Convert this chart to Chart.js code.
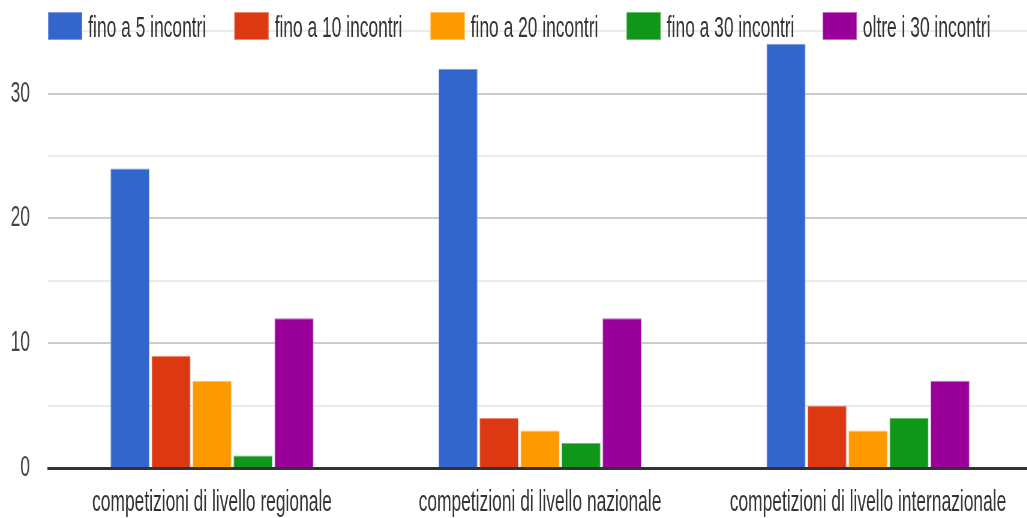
<!DOCTYPE html>
<html lang="it">
<head>
<meta charset="utf-8">
<title>Numero di incontri per livello di competizione</title>
<script src="https://cdn.jsdelivr.net/npm/chart.js@4/dist/chart.umd.min.js"></script>
<style>
  html, body { margin: 0; padding: 0; background: #fff; overflow: hidden; }
  #wrap {
    width: 1720px;
    height: 518px;
    transform: scaleX(0.6);
    transform-origin: 0 0;
  }
  canvas { display: block; }
</style>
</head>
<body>
<div id="wrap"><canvas id="chart" width="1720" height="518"></canvas></div>
<script>
// Categories (competition level)
const categories = [
  'competizioni di livello regionale',
  'competizioni di livello nazionale',
  'competizioni di livello internazionale'
];

// Series names
const seriesLabels = [
  'fino a 5 incontri',
  'fino a 10 incontri',
  'fino a 20 incontri',
  'fino a 30 incontri',
  'oltre i 30 incontri'
];

// Values per series, one per category
const fino5 = [24, 32, 34];
const fino10 = [9, 4, 5];
const fino20 = [7, 3, 3];
const fino30 = [1, 2, 4];
const oltre30 = [12, 12, 7];

// Labelled y ticks
const yTickLabels = [0, 10, 20, 30];

const seriesColors = ['#3366cc', '#dc3912', '#ff9900', '#109618', '#990099'];
const seriesEdges  = ['#7d9de0', '#ec8a72', '#ffc266', '#6cc070', '#c866c8'];

const FONT = '"Liberation Sans", Arial, sans-serif';
const seriesValues = [fino5, fino10, fino20, fino30, oltre30];

const datasets = seriesLabels.map((label, i) => ({
  label,
  data: seriesValues[i],
  backgroundColor: seriesColors[i],
  borderColor: seriesEdges[i],
  borderWidth: 1,
  categoryPercentage: 0.625,
  barPercentage: 0.951
}));

// Legend row drawn along the top, over the plot area
const topLegend = {
  id: 'topLegend',
  afterDraw(chart) {
    const ctx = chart.ctx;
    ctx.save();
    ctx.font = '29px ' + FONT;
    ctx.textBaseline = 'alphabetic';
    let x = chart.chartArea.left;
    chart.data.datasets.forEach(ds => {
      ctx.fillStyle = ds.backgroundColor;
      ctx.fillRect(x, 12, 57, 28);
      ctx.strokeStyle = ds.borderColor;
      ctx.lineWidth = 1;
      ctx.strokeRect(x + 0.5, 12.5, 56, 27);
      x += 57 + 10;
      ctx.fillStyle = '#333';
      ctx.fillText(ds.label, x, 37);
      x += ctx.measureText(ds.label).width + 47;
    });
    ctx.restore();
  }
};

new Chart(document.getElementById('chart'), {
  type: 'bar',
  data: { labels: categories, datasets },
  plugins: [topLegend],
  options: {
    responsive: false,
    animation: false,
    devicePixelRatio: 1,
    layout: { padding: 0 },
    plugins: {
      legend: { display: false },
      tooltip: { enabled: false }
    },
    scales: {
      x: {
        z: 1,
        grid: { display: false, drawTicks: false },
        border: { display: true, color: '#333', width: 3 },
        ticks: {
          padding: 18,
          color: '#333',
          font: { family: FONT, size: 29 },
          maxRotation: 0,
          autoSkip: false
        },
        afterFit(scale) {
          scale.height = 50;
          scale.paddingLeft = 0;
          scale.paddingRight = 0;
        }
      },
      y: {
        min: 0,
        max: 37.5,
        border: { display: false },
        grid: {
          drawTicks: false,
          lineWidth: 2,
          color: c => c.tick.value === 0 ? '#333'
            : (c.tick.value % 10 === 0 ? '#cccccc' : '#ebebeb')
        },
        ticks: {
          stepSize: 5,
          includeBounds: false,
          padding: 30,
          color: '#444',
          font: { family: FONT, size: 29 },
          callback: v => yTickLabels.includes(v) ? String(v) : ''
        },
        afterFit(scale) {
          scale.width = 80;
          scale.paddingTop = 0;
          scale.paddingBottom = 0;
        }
      }
    }
  }
});
</script>
</body>
</html>
